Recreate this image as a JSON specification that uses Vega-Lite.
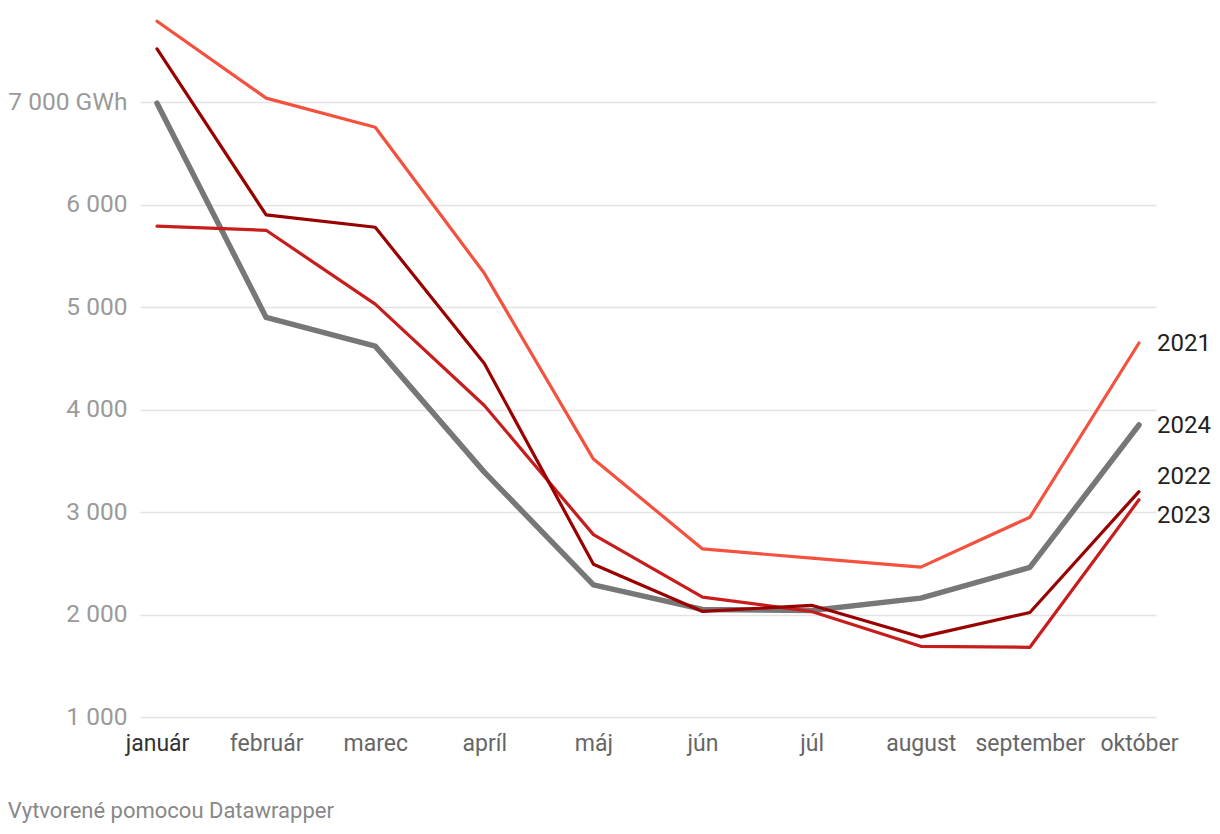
{
  "$schema": "https://vega.github.io/schema/vega-lite/v6.json",
  "autosize": "none",
  "width": 1016,
  "height": 707,
  "padding": {"left": 140, "top": 10, "right": 64, "bottom": 117},
  "background": "white",
  "config": {
    "font": "Roboto",
    "view": {"stroke": null}
  },
  "title": {
    "text": "Vytvorené pomocou Datawrapper",
    "orient": "bottom",
    "anchor": "start",
    "frame": "bounds",
    "offset": 46,
    "fontSize": 22,
    "fontWeight": "normal",
    "color": "#888888",
    "font": "Roboto"
  },
  "datasets": {
    "series": [
      {"month": "január", "year": "2024", "value": 6990},
      {"month": "február", "year": "2024", "value": 4900},
      {"month": "marec", "year": "2024", "value": 4620},
      {"month": "apríl", "year": "2024", "value": 3390},
      {"month": "máj", "year": "2024", "value": 2290},
      {"month": "jún", "year": "2024", "value": 2050},
      {"month": "júl", "year": "2024", "value": 2040},
      {"month": "august", "year": "2024", "value": 2160},
      {"month": "september", "year": "2024", "value": 2460},
      {"month": "október", "year": "2024", "value": 3850},
      {"month": "január", "year": "2023", "value": 5790},
      {"month": "február", "year": "2023", "value": 5750},
      {"month": "marec", "year": "2023", "value": 5030},
      {"month": "apríl", "year": "2023", "value": 4040},
      {"month": "máj", "year": "2023", "value": 2780},
      {"month": "jún", "year": "2023", "value": 2170},
      {"month": "júl", "year": "2023", "value": 2030},
      {"month": "august", "year": "2023", "value": 1690},
      {"month": "september", "year": "2023", "value": 1680},
      {"month": "október", "year": "2023", "value": 3120},
      {"month": "január", "year": "2022", "value": 7520},
      {"month": "február", "year": "2022", "value": 5900},
      {"month": "marec", "year": "2022", "value": 5780},
      {"month": "apríl", "year": "2022", "value": 4450},
      {"month": "máj", "year": "2022", "value": 2490},
      {"month": "jún", "year": "2022", "value": 2030},
      {"month": "júl", "year": "2022", "value": 2090},
      {"month": "august", "year": "2022", "value": 1780},
      {"month": "september", "year": "2022", "value": 2020},
      {"month": "október", "year": "2022", "value": 3200},
      {"month": "január", "year": "2021", "value": 7790},
      {"month": "február", "year": "2021", "value": 7040},
      {"month": "marec", "year": "2021", "value": 6756},
      {"month": "apríl", "year": "2021", "value": 5330},
      {"month": "máj", "year": "2021", "value": 3517},
      {"month": "jún", "year": "2021", "value": 2640},
      {"month": "júl", "year": "2021", "value": 2550},
      {"month": "august", "year": "2021", "value": 2463},
      {"month": "september", "year": "2021", "value": 2950},
      {"month": "október", "year": "2021", "value": 4650}
    ]
  },
  "data": {"name": "series"},
  "encoding": {
    "x": {
      "field": "month",
      "type": "ordinal",
      "sort": ["január", "február", "marec", "apríl", "máj", "jún", "júl", "august", "september", "október"],
      "scale": {"type": "point", "padding": 0.156},
      "axis": {
        "title": null,
        "domain": false,
        "ticks": false,
        "grid": false,
        "labelAngle": 0,
        "labelFontSize": 23,
        "labelColor": {"condition": {"test": "datum.value == 'január'", "value": "#333333"}, "value": "#666666"},
        "labelPadding": 15,
        "labelFont": "Roboto"
      }
    },
    "y": {
      "field": "value",
      "type": "quantitative",
      "scale": {"domain": [1000, 7900], "nice": false, "zero": false},
      "axis": {
        "title": null,
        "domain": false,
        "ticks": false,
        "values": [1000, 2000, 3000, 4000, 5000, 6000, 7000],
        "labelExpr": "datum.value == 7000 ? '7 000 GWh' : replace(format(datum.value, ','), ',', ' ')",
        "labelFontSize": 24.5,
        "labelColor": "#9a9a9a",
        "labelPadding": 13,
        "labelFont": "Roboto",
        "gridColor": "#e3e3e3",
        "gridWidth": 1.5
      }
    }
  },
  "layer": [
    {
      "mark": {"type": "line", "strokeCap": "round", "strokeJoin": "round"},
      "encoding": {
        "color": {
          "field": "year",
          "type": "nominal",
          "scale": {"domain": ["2024", "2023", "2022", "2021"], "range": ["#777777", "#c71e1d", "#990000", "#f4513f"]},
          "legend": null
        },
        "strokeWidth": {
          "condition": {"test": "datum.year == '2024'", "value": 5.5},
          "value": 3.2
        }
      }
    },
    {
      "transform": [{"filter": "datum.month == 'október' && (datum.year == '2021' || datum.year == '2024')"}],
      "mark": {"type": "text", "align": "left", "baseline": "middle", "dx": 18, "dy": 1, "fontSize": 24, "color": "#222222", "font": "Roboto"},
      "encoding": {"text": {"field": "year"}}
    },
    {
      "transform": [{"filter": "datum.month == 'október' && datum.year == '2022'"}],
      "mark": {"type": "text", "align": "left", "baseline": "middle", "dx": 18, "dy": -15, "fontSize": 24, "color": "#222222", "font": "Roboto"},
      "encoding": {"text": {"field": "year"}}
    },
    {
      "transform": [{"filter": "datum.month == 'október' && datum.year == '2023'"}],
      "mark": {"type": "text", "align": "left", "baseline": "middle", "dx": 18, "dy": 16, "fontSize": 24, "color": "#222222", "font": "Roboto"},
      "encoding": {"text": {"field": "year"}}
    }
  ]
}
